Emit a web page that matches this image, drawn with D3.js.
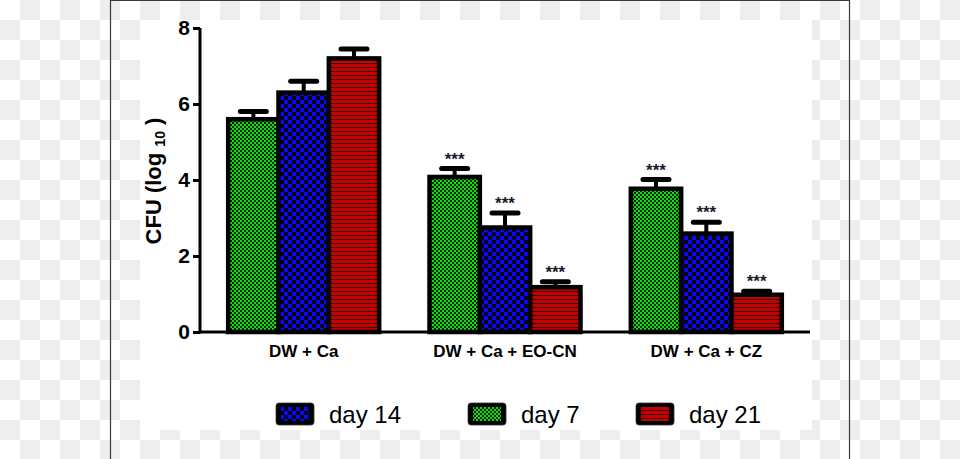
<!DOCTYPE html>
<html>
<head>
<meta charset="utf-8">
<script src="https://cdn.jsdelivr.net/npm/d3@7"></script>
<style>
  html, body { margin: 0; padding: 0; background: #fff; }
  svg { display: block; }
  text { font-family: "Liberation Sans", Arial, sans-serif; }
</style>
</head>
<body>
<svg id="chart" width="960" height="459"></svg>
<script>
// ---- data ----
const categories = ["DW + Ca", "DW + Ca + EO-CN", "DW + Ca + CZ"];
const seriesNames = ["day 7", "day 14", "day 21"];
const day7Values  = [5.6, 4.08, 3.77];
const day14Values = [6.3, 2.75, 2.59];
const day21Values = [7.2, 1.18, 0.98];
const day7Errors  = [0.2, 0.22, 0.24];
const day14Errors = [0.3, 0.38, 0.3];
const day21Errors = [0.25, 0.14, 0.09];
const day7Marks   = ["", "***", "***"];
const day14Marks  = ["", "***", "***"];
const day21Marks  = ["", "***", "***"];
const yTicks = [0, 2, 4, 6, 8];
const legendOrder = ["day 14", "day 7", "day 21"];

const valuesBySeries = { "day 7": day7Values, "day 14": day14Values, "day 21": day21Values };
const errorsBySeries = { "day 7": day7Errors, "day 14": day14Errors, "day 21": day21Errors };
const marksBySeries  = { "day 7": day7Marks,  "day 14": day14Marks,  "day 21": day21Marks };
const patternBySeries = { "day 7": "url(#pGreen)", "day 14": "url(#pBlue)", "day 21": "url(#pRed)" };

const svg = d3.select("#chart");
const defs = svg.append("defs");

// checkerboard background pattern
const chk = defs.append("pattern").attr("id", "checker").attr("patternUnits", "userSpaceOnUse")
  .attr("width", 40).attr("height", 40);
chk.append("rect").attr("width", 40).attr("height", 40).attr("fill", "#ffffff");
chk.append("rect").attr("x", 20).attr("y", 0).attr("width", 20).attr("height", 20).attr("fill", "#eeeeee");
chk.append("rect").attr("x", 0).attr("y", 20).attr("width", 20).attr("height", 20).attr("fill", "#eeeeee");

// green fine checker
const pg = defs.append("pattern").attr("id", "pGreen").attr("patternUnits", "userSpaceOnUse")
  .attr("width", 4).attr("height", 4);
pg.append("rect").attr("width", 4).attr("height", 4).attr("fill", "#002800");
pg.append("rect").attr("x", 0).attr("y", 0).attr("width", 2).attr("height", 2).attr("fill", "#12dd12");
pg.append("rect").attr("x", 2).attr("y", 2).attr("width", 2).attr("height", 2).attr("fill", "#12dd12");

// blue coarse checker
const pb = defs.append("pattern").attr("id", "pBlue").attr("patternUnits", "userSpaceOnUse")
  .attr("width", 8).attr("height", 8);
pb.append("rect").attr("width", 8).attr("height", 8).attr("fill", "#000010");
pb.append("rect").attr("x", 0).attr("y", 0).attr("width", 4).attr("height", 4).attr("fill", "#0a0af2");
pb.append("rect").attr("x", 4).attr("y", 4).attr("width", 4).attr("height", 4).attr("fill", "#0a0af2");

// red horizontal stripes
const pr = defs.append("pattern").attr("id", "pRed").attr("patternUnits", "userSpaceOnUse")
  .attr("width", 4).attr("height", 4);
pr.append("rect").attr("width", 4).attr("height", 4).attr("fill", "#c40000");
pr.append("rect").attr("x", 0).attr("y", 3).attr("width", 4).attr("height", 1).attr("fill", "#3a0000");

// ---- background ----
svg.append("rect").attr("width", 960).attr("height", 459).attr("fill", "url(#checker)");
svg.append("rect").attr("x", 140).attr("y", 20).attr("width", 672).attr("height", 410).attr("fill", "#ffffff");
svg.append("path").attr("d", "M110.5,459 V0.5 H849.5 V459")
  .attr("fill", "none").attr("stroke", "#3a3a3a").attr("stroke-width", 1.2);

// ---- scales ----
const x0 = d3.scaleBand().domain(categories).range([200, 810]).paddingInner(0.25).paddingOuter(0.14);
const x1 = d3.scaleBand().domain(seriesNames).range([0, x0.bandwidth()]).padding(0);
const y = d3.scaleLinear().domain([0, 8]).range([332, 28]);

const g = svg.append("g");

// bars
const barData = [];
categories.forEach((c, i) => {
  seriesNames.forEach(s => {
    barData.push({ cat: c, s: s, v: valuesBySeries[s][i], e: errorsBySeries[s][i], m: marksBySeries[s][i] });
  });
});

// error bars (behind bars)
const eb = g.append("g");
barData.forEach(d => {
  const cx = x0(d.cat) + x1(d.s) + x1.bandwidth() / 2;
  eb.append("line").attr("x1", cx).attr("x2", cx).attr("y1", y(d.v)).attr("y2", y(d.v + d.e))
    .attr("stroke", "#000").attr("stroke-width", 4);
  eb.append("line").attr("x1", cx - 13).attr("x2", cx + 13).attr("y1", y(d.v + d.e)).attr("y2", y(d.v + d.e))
    .attr("stroke", "#000").attr("stroke-width", 5).attr("stroke-linecap", "round");
  if (d.m) {
    eb.append("text").attr("x", cx).attr("y", y(d.v + d.e) - 4).attr("text-anchor", "middle")
      .attr("font-size", 17).attr("font-weight", "bold").attr("fill", "#1a1a2a").text(d.m);
  }
});

g.append("g").selectAll("rect").data(barData).join("rect")
  .attr("x", d => x0(d.cat) + x1(d.s))
  .attr("y", d => y(d.v))
  .attr("width", x1.bandwidth())
  .attr("height", d => y(0) - y(d.v))
  .attr("fill", d => patternBySeries[d.s])
  .attr("stroke", "#000")
  .attr("stroke-width", 4.5);

// ---- axes ----
const yAxis = d3.axisLeft(y).tickValues(yTicks).tickSize(7).tickPadding(3).tickFormat(d3.format("d"));
const ya = svg.append("g").attr("transform", "translate(200,0)").call(yAxis);
ya.select(".domain").attr("stroke", "#000").attr("stroke-width", 3).attr("d", "M0," + (y(0) + 1.5) + "V" + y(8));
ya.selectAll(".tick line").attr("stroke", "#000").attr("stroke-width", 3);
ya.selectAll(".tick text").attr("font-size", 21).attr("font-weight", "bold").attr("fill", "#000")
  .attr("font-family", "Liberation Sans, Arial, sans-serif");

const xAxis = d3.axisBottom(x0).tickSize(0).tickPadding(13);
const xa = svg.append("g").attr("transform", "translate(0," + y(0) + ")").call(xAxis);
xa.select(".domain").attr("stroke", "#000").attr("stroke-width", 3).attr("d", "M198.5,0H810");
xa.selectAll(".tick text").attr("font-size", 17).attr("font-weight", "bold").attr("fill", "#000")
  .attr("font-family", "Liberation Sans, Arial, sans-serif");

// y axis label
const yl = svg.append("text").attr("transform", "translate(161,181) rotate(-90)")
  .attr("text-anchor", "middle").attr("font-size", 22).attr("font-weight", "bold").attr("fill", "#000");
yl.append("tspan").text("CFU (log ");
yl.append("tspan").attr("font-size", 14).attr("dy", 4).text("10");
yl.append("tspan").attr("dy", -4).text(" )");

// ---- legend ----
const legendX = [276, 468, 636];
legendOrder.forEach((s, i) => {
  const lg = svg.append("g").attr("transform", "translate(" + legendX[i] + ",403)");
  lg.append("rect").attr("width", 38).attr("height", 22).attr("rx", 3).attr("fill", "#000")
    .attr("stroke", "#333").attr("stroke-width", 0.8);
  lg.append("rect").attr("x", 5).attr("y", 4).attr("width", 28).attr("height", 14)
    .attr("fill", patternBySeries[s]);
  lg.append("text").attr("x", 53).attr("y", 20).attr("font-size", 24).attr("fill", "#000").text(s);
});
</script>
</body>
</html>
